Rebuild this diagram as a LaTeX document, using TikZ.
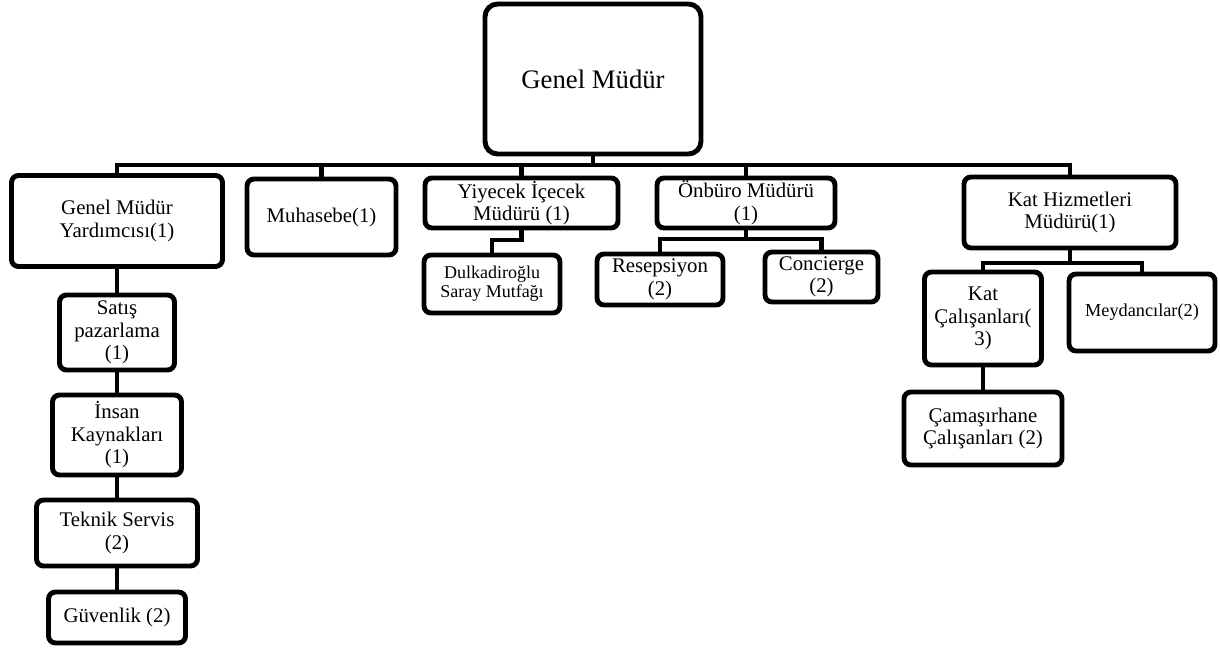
\documentclass[tikz,border=0pt]{standalone}
\usepackage{fontspec}
\setmainfont{Liberation Serif}

\begin{document}
\begin{tikzpicture}
  [x=0.025cm,y=-0.025cm,
   box/.style={draw,line width=3.5pt,rounded corners=5pt,align=center,inner sep=0pt,
     font=\fontsize{14.8}{16}\selectfont},
   sz/.style 2 args={minimum width=#1*0.025cm,minimum height=#2*0.025cm},
   link/.style={line width=3.5pt}]

  \useasboundingbox (0,0) rectangle (1220,648);

  % top
  \node[box,sz={216}{150},rounded corners=9pt,font=\fontsize{19}{22}\selectfont] (gm) at (593,79) {Genel Müdür};

  % first level
  \node[box,sz={211}{91}]  (gmy) at (117,221)    {Genel Müdür\\Yardımcısı(1)};
  \node[box,sz={149}{76}]  (muh) at (321.5,217)  {Muhasebe(1)};
  \node[box,sz={193}{50}]  (yic) at (521.5,203)  {Yiyecek İçecek\\Müdürü (1)};
  \node[box,sz={178}{50}]  (onb) at (746,203)    {Önbüro Müdürü\\(1)};
  \node[box,sz={212}{71}]  (kat) at (1070,212.5) {Kat Hizmetleri\\Müdürü(1)};

  % second level
  \node[box,sz={136}{58},font=\fontsize{12.8}{13.6}\selectfont] (dul) at (492,284) {Dulkadiroğlu\\Saray Mutfağı};
  \node[box,sz={126}{51}]  (res)  at (660,279.5)  {Resepsiyon\\(2)};
  \node[box,sz={113}{50}]  (con)  at (821.5,277)  {Concierge\\(2)};
  \node[box,sz={117}{93}]  (katc) at (983,318.5)  {Kat\\Çalışanları(\\3)};
  \node[box,sz={146}{77},font=\fontsize{13}{15}\selectfont] (mey) at (1142,312.5) {Meydancılar(2)};
  \node[box,sz={158}{73}]  (cam)  at (983,428.5)  {Çamaşırhane\\Çalışanları (2)};

  % left column
  \node[box,sz={115}{75}]  (sat) at (117,332.5) {Satış\\pazarlama\\(1)};
  \node[box,sz={129}{80}]  (ins) at (117,435)   {İnsan\\Kaynakları\\(1)};
  \node[box,sz={161}{66}]  (tek) at (117,533)   {Teknik Servis\\(2)};
  \node[box,sz={137}{51}]  (guv) at (117,617.5) {Güvenlik (2)};

  \coordinate (bus) at (0,165);
  \coordinate (yicbus) at (0,240);
  \coordinate (onbbus) at (0,239);
  \coordinate (katbus) at (0,263);

  \foreach \to in {gmy,muh,yic,onb,kat}
    \draw[link] (gm.south) -- (gm.south |- bus) -| (\to.north);

  \draw[link] (yic.south) -- (yic.south |- yicbus) -| (dul.north);
  \foreach \to in {res,con}
    \draw[link] (onb.south) -- (onb.south |- onbbus) -| (\to.north);
  \foreach \to in {katc,mey}
    \draw[link] (kat.south) -- (kat.south |- katbus) -| (\to.north);

  \foreach \from/\to in {gmy/sat,sat/ins,ins/tek,tek/guv,katc/cam}
    \draw[link] (\from) -- (\to);
\end{tikzpicture}
\end{document}
